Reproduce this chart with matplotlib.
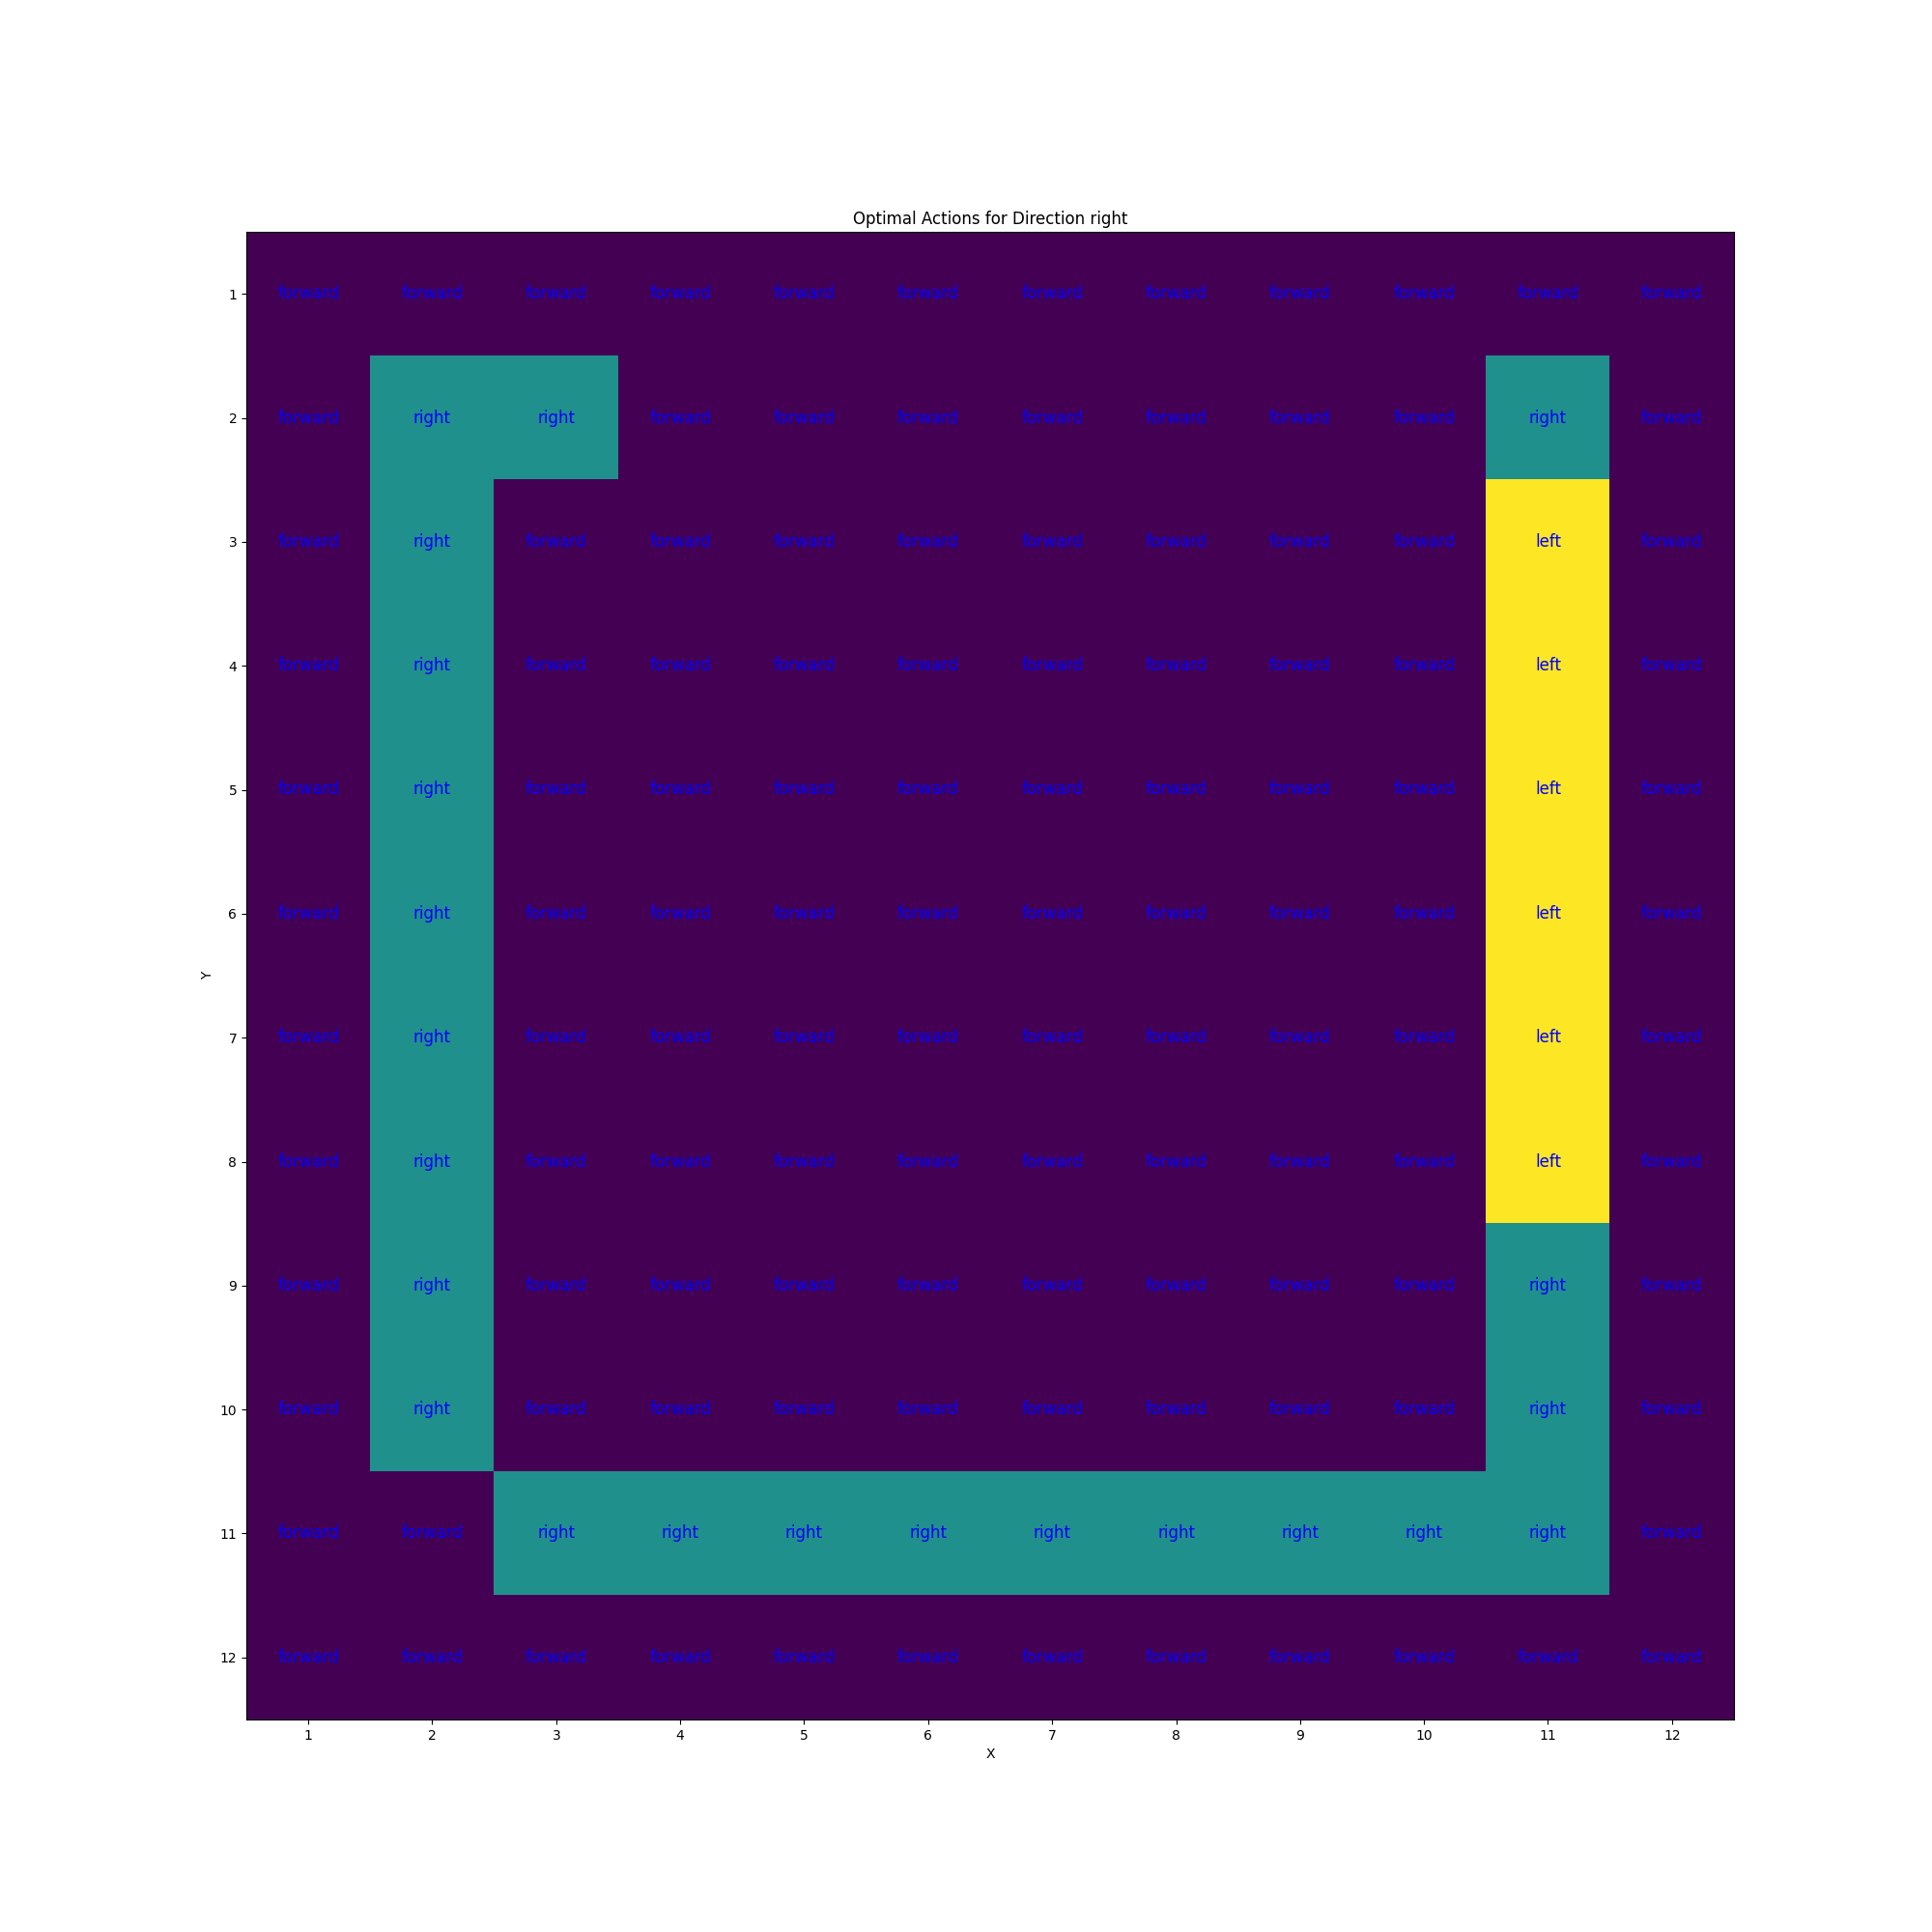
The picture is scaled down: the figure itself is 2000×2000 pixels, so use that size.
import numpy as np
import matplotlib
matplotlib.use('Agg')
import matplotlib.pyplot as plt

actions = ['forward', 'right', 'left']
direction = 'right'

# optimal action per cell, rows are y = 1..12, columns x = 1..12
F, R, L = 'forward', 'right', 'left'
policy = [
    [F] * 12,
    [F, R, R, F, F, F, F, F, F, F, R, F],
    [F, R, F, F, F, F, F, F, F, F, L, F],
    [F, R, F, F, F, F, F, F, F, F, L, F],
    [F, R, F, F, F, F, F, F, F, F, L, F],
    [F, R, F, F, F, F, F, F, F, F, L, F],
    [F, R, F, F, F, F, F, F, F, F, L, F],
    [F, R, F, F, F, F, F, F, F, F, L, F],
    [F, R, F, F, F, F, F, F, F, F, R, F],
    [F, R, F, F, F, F, F, F, F, F, R, F],
    [F, F, R, R, R, R, R, R, R, R, R, F],
    [F] * 12,
]

grid = np.array([[actions.index(a) for a in row] for row in policy])
n_rows, n_cols = grid.shape

fig, ax = plt.subplots(figsize=(20, 20), dpi=100)
ax.imshow(grid, cmap='viridis')

for y in range(n_rows):
    for x in range(n_cols):
        ax.text(x, y, policy[y][x], ha='center', va='center', color='blue', fontsize=12)

ax.set_xticks(range(n_cols))
ax.set_xticklabels(range(1, n_cols + 1))
ax.set_yticks(range(n_rows))
ax.set_yticklabels(range(1, n_rows + 1))
ax.set_xlabel('X')
ax.set_ylabel('Y')
ax.set_title(f'Optimal Actions for Direction {direction}')

plt.savefig('out.png')
